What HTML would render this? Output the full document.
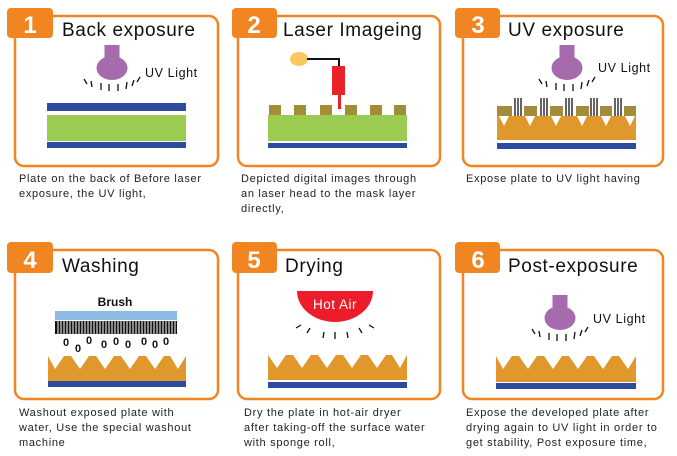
<!DOCTYPE html>
<html><head><meta charset="utf-8"><style>
body{margin:0;background:#fff;}
svg{display:block;font-family:"Liberation Sans",sans-serif;}
.box{fill:#fff;stroke:#f08521;stroke-width:2.5;}
.badge{fill:#f08521;}
.num{fill:#fff;font-weight:bold;font-size:24px;}
.title{fill:#111;font-size:19px;letter-spacing:0.6px;}
.desc{fill:#222;font-size:11px;letter-spacing:0.7px;}
.uv{fill:#111;font-size:12.5px;letter-spacing:0.6px;}
.ray{stroke:#111;stroke-width:1.3;}
</style></head><body>
<svg width="677" height="456" viewBox="0 0 677 456" xmlns="http://www.w3.org/2000/svg">
<defs>
<g id="lamp">
<rect x="-7.5" y="-23" width="15" height="15" fill="#a56bad"/>
<ellipse cx="0" cy="0" rx="15.5" ry="12" fill="#a56bad"/>
<g class="ray">
<line x1="-28" y1="11" x2="-25" y2="16"/>
<line x1="-21" y1="13" x2="-20" y2="19"/>
<line x1="-11" y1="15" x2="-11" y2="22"/>
<line x1="-3" y1="16" x2="-3" y2="23"/>
<line x1="6" y1="16" x2="6" y2="23"/>
<line x1="15" y1="14" x2="14" y2="21"/>
<line x1="22" y1="12" x2="20" y2="18"/>
<line x1="28" y1="9" x2="25" y2="14"/>
</g>
</g>
</defs>

<!-- Panel 1 -->
<rect class="box" x="15" y="16" width="203" height="150" rx="9"/>
<rect class="badge" x="7" y="8" width="46" height="30" rx="4"/>
<text class="num" x="30" y="33" text-anchor="middle">1</text>
<text class="title" x="62" y="36">Back  exposure</text>
<use href="#lamp" x="112" y="68"/>
<text class="uv" x="145" y="77">UV  Light</text>
<rect x="47" y="103" width="139" height="8" fill="#2e4c9e"/>
<rect x="47" y="115" width="139" height="26" fill="#9bcb50"/>
<rect x="47" y="142" width="139" height="6" fill="#2e4c9e"/>
<text class="desc" x="19" y="182">Plate on the back of Before laser</text>
<text class="desc" x="19" y="197">exposure, the UV light,</text>

<!-- Panel 2 -->
<rect class="box" x="238" y="16" width="202" height="150" rx="9"/>
<rect class="badge" x="232" y="8" width="45" height="30" rx="4"/>
<text class="num" x="254" y="33" text-anchor="middle">2</text>
<text class="title" x="283" y="36">Laser  Imageing</text>
<ellipse cx="299" cy="59" rx="9" ry="7" fill="#fcc75c"/>
<polyline points="307,59 339,59 339,67" fill="none" stroke="#111" stroke-width="2"/>
<rect x="332" y="66" width="13" height="29" fill="#ec2229"/>
<rect x="338" y="95" width="3" height="14" fill="#ec2229"/>
<g fill="#a38d38">
<rect x="269" y="105" width="12" height="10"/><rect x="294" y="105" width="12" height="10"/>
<rect x="320" y="105" width="12" height="10"/><rect x="345" y="105" width="12" height="10"/>
<rect x="370" y="105" width="12" height="10"/><rect x="394" y="105" width="12" height="10"/>
</g>
<rect x="268" y="115" width="139" height="26" fill="#9bcb50"/>
<rect x="268" y="143" width="139" height="5" fill="#2e4c9e"/>
<text class="desc" x="241" y="182">Depicted digital images through</text>
<text class="desc" x="241" y="197">an  laser head to the mask layer</text>
<text class="desc" x="241" y="212">directly,</text>

<!-- Panel 3 -->
<rect class="box" x="463" y="16" width="200" height="150" rx="9"/>
<rect class="badge" x="455" y="8" width="45" height="30" rx="4"/>
<text class="num" x="478" y="33" text-anchor="middle">3</text>
<text class="title" x="508" y="36">UV  exposure</text>
<use href="#lamp" x="567" y="68"/>
<text class="uv" x="598" y="72">UV  Light</text>
<g fill="#a38d38">
<rect x="497" y="106" width="15" height="10"/><rect x="524" y="106" width="13" height="10"/>
<rect x="550" y="106" width="13" height="10"/><rect x="576" y="106" width="13" height="10"/>
<rect x="600" y="106" width="12" height="10"/><rect x="624" y="106" width="12" height="10"/>
</g>
<g stroke="#111" stroke-width="1.3">
<line x1="515" y1="98" x2="515" y2="116"/><line x1="518" y1="98" x2="518" y2="116"/><line x1="521" y1="98" x2="521" y2="116"/>
<line x1="541" y1="98" x2="541" y2="116"/><line x1="544" y1="98" x2="544" y2="116"/><line x1="547" y1="98" x2="547" y2="116"/>
<line x1="566" y1="98" x2="566" y2="116"/><line x1="569" y1="98" x2="569" y2="116"/><line x1="572" y1="98" x2="572" y2="116"/>
<line x1="591" y1="98" x2="591" y2="116"/><line x1="594" y1="98" x2="594" y2="116"/><line x1="597" y1="98" x2="597" y2="116"/>
<line x1="615" y1="98" x2="615" y2="116"/><line x1="618" y1="98" x2="618" y2="116"/><line x1="621" y1="98" x2="621" y2="116"/>
</g>
<rect x="497" y="116" width="139" height="24" fill="#e0972b"/>
<g fill="#fff">
<polygon points="499,116 509,116 504,126"/><polygon points="525,116 535,116 530,126"/>
<polygon points="551,116 561,116 556,126"/><polygon points="577,116 587,116 582,126"/>
<polygon points="601,116 611,116 606,126"/><polygon points="625,116 635,116 630,126"/>
</g>
<rect x="497" y="143" width="139" height="6" fill="#2e4c9e"/>
<text class="desc" x="466" y="182">Expose plate to UV light having</text>

<!-- Panel 4 -->
<rect class="box" x="15" y="250" width="203" height="149" rx="9"/>
<rect class="badge" x="7" y="242" width="46" height="31" rx="4"/>
<text class="num" x="30" y="268" text-anchor="middle">4</text>
<text class="title" x="62" y="272">Washing</text>
<text x="115" y="306" text-anchor="middle" font-size="12" font-weight="bold" fill="#111">Brush</text>
<rect x="55" y="311" width="122" height="9" fill="#8db9e3"/>
<rect x="55" y="321" width="122" height="13" fill="#111"/>
<g stroke="#fff" stroke-width="1">
<path d="M58 321v13M61 321v13M64 321v13M67 321v13M70 321v13M73 321v13M76 321v13M79 321v13M82 321v13M85 321v13M88 321v13M91 321v13M94 321v13M97 321v13M100 321v13M103 321v13M106 321v13M109 321v13M112 321v13M115 321v13M118 321v13M121 321v13M124 321v13M127 321v13M130 321v13M133 321v13M136 321v13M139 321v13M142 321v13M145 321v13M148 321v13M151 321v13M154 321v13M157 321v13M160 321v13M163 321v13M166 321v13M169 321v13M172 321v13M175 321v13"/>
</g>
<g font-size="11" font-weight="bold" fill="#111" text-anchor="middle">
<text x="66" y="346">0</text><text x="78" y="352">0</text><text x="89" y="344">0</text>
<text x="104" y="348">0</text><text x="116" y="345">0</text><text x="128" y="348">0</text>
<text x="144" y="345">0</text><text x="155" y="348">0</text><text x="166" y="345">0</text>
</g>
<polygon fill="#e0972b" points="48,381 48,356 55,369 64,356 71,356 80,369 89,356 96,356 105,369 114,356 121,356 130,369 139,356 146,356 155,369 164,356 170,356 178,369 186,356 186,381"/>
<rect x="48" y="381" width="138" height="6" fill="#2e4c9e"/>
<text class="desc" x="19" y="416">Washout exposed plate with</text>
<text class="desc" x="19" y="431">water, Use the special washout</text>
<text class="desc" x="19" y="446">machine</text>

<!-- Panel 5 -->
<rect class="box" x="238" y="250" width="202" height="149" rx="9"/>
<rect class="badge" x="232" y="242" width="45" height="31" rx="4"/>
<text class="num" x="254" y="268" text-anchor="middle">5</text>
<text class="title" x="285" y="272">Drying</text>
<path d="M297 291 H373 A38 31 0 0 1 297 291 Z" fill="#ec1c2b"/>
<text x="335" y="309" text-anchor="middle" font-size="13.5" fill="#fff" letter-spacing="0.5">Hot  Air</text>
<g class="ray">
<line x1="296" y1="328" x2="301" y2="325"/><line x1="307" y1="333" x2="310" y2="328"/>
<line x1="323" y1="338" x2="324" y2="332"/><line x1="335" y1="339" x2="335" y2="332"/>
<line x1="348" y1="338" x2="347" y2="332"/><line x1="362" y1="333" x2="359" y2="328"/>
<line x1="374" y1="328" x2="369" y2="325"/>
</g>
<polygon fill="#e0972b" points="268,380 268,355 277,368 286,355 293,355 302,368 311,355 318,355 327,368 336,355 343,355 352,368 361,355 368,355 377,368 386,355 392,355 400,368 407,355 407,380"/>
<rect x="268" y="382" width="139" height="6" fill="#2e4c9e"/>
<text class="desc" x="244" y="416">Dry the plate in hot-air dryer</text>
<text class="desc" x="244" y="431">after taking-off the surface water</text>
<text class="desc" x="244" y="446">with sponge roll,</text>

<!-- Panel 6 -->
<rect class="box" x="463" y="250" width="200" height="149" rx="9"/>
<rect class="badge" x="455" y="242" width="45" height="31" rx="4"/>
<text class="num" x="478" y="268" text-anchor="middle">6</text>
<text class="title" x="508" y="272">Post-exposure</text>
<use href="#lamp" x="560" y="318"/>
<text class="uv" x="593" y="323">UV  Light</text>
<polygon fill="#e0972b" points="496,382 496,356 503,369 512,356 519,356 528,369 537,356 544,356 553,369 562,356 569,356 578,369 587,356 594,356 603,369 612,356 619,356 628,369 636,356 636,382"/>
<rect x="496" y="383" width="140" height="6" fill="#2e4c9e"/>
<text class="desc" x="466" y="416">Expose the developed plate after</text>
<text class="desc" x="466" y="431">drying again to UV light in order to</text>
<text class="desc" x="466" y="446">get stability, Post exposure time,</text>
</svg>
</body></html>
